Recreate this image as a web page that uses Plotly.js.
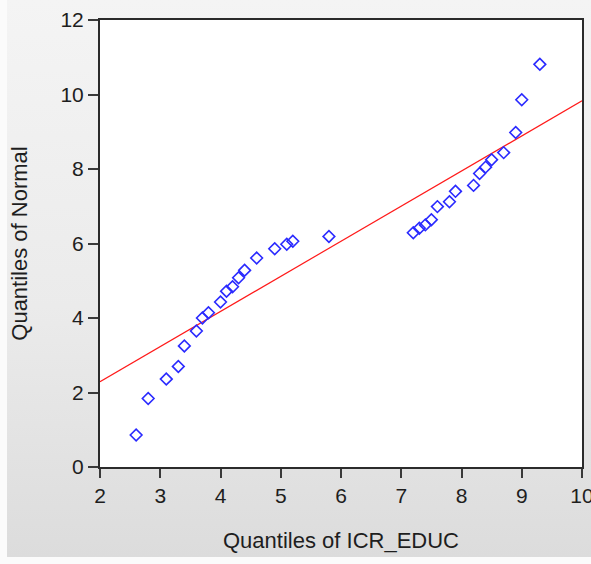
<!DOCTYPE html>
<html>
<head>
<meta charset="utf-8">
<script src="https://cdn.plot.ly/plotly-3.0.1.min.js"></script>
<style>
  html, body { margin: 0; padding: 0; background: #fbfbfb; }
  #frame {
    position: absolute; left: 7px; top: 0; width: 584px; height: 557px;
    background: linear-gradient(to bottom, #f4f4f4 0%, #ebebeb 55%, #dcdcdc 100%);
  }
  #chart { position: absolute; left: 0; top: 0; width: 591px; height: 564px; }
</style>
</head>
<body>
<div id="frame"></div>
<div id="chart"></div>
<script>
// Empirical quantiles of ICR_EDUC against theoretical normal quantiles
const educQuantiles = [2.6, 2.8, 3.1, 3.3, 3.4, 3.6, 3.7, 3.8, 4.0, 4.1, 4.2, 4.3, 4.4, 4.6, 4.9, 5.1, 5.2,
                       5.8, 7.2, 7.3, 7.4, 7.5, 7.6, 7.8, 7.9, 8.2, 8.3, 8.4, 8.5, 8.7, 8.9, 9.0, 9.3];
const normalQuantiles = [0.86, 1.84, 2.36, 2.70, 3.25, 3.65, 4.00, 4.14, 4.43, 4.72, 4.84, 5.08, 5.28, 5.61, 5.86, 5.98, 6.06,
                         6.19, 6.29, 6.41, 6.50, 6.64, 6.99, 7.12, 7.40, 7.56, 7.88, 8.05, 8.25, 8.44, 8.98, 9.86, 10.81];

// Reference line endpoints
const refLineX = [2, 10];
const refLineY = [2.29, 9.83];

const xTicks = [2, 3, 4, 5, 6, 7, 8, 9, 10];
const yTicks = [0, 2, 4, 6, 8, 10, 12];

const traces = [
  {
    x: refLineX, y: refLineY, type: 'scatter', mode: 'lines',
    line: { color: '#ff1a1a', width: 1.2 }, hoverinfo: 'skip'
  },
  {
    x: educQuantiles, y: normalQuantiles, type: 'scatter', mode: 'markers',
    marker: { symbol: 'diamond-open', size: 9, color: '#2a2aff', line: { width: 1.6, color: '#2a2aff' } }
  }
];

const family = 'Liberation Sans, Arial, sans-serif';
const tickFont = { family: family, size: 21, color: '#1e1e1e' };
const titleFont = { family: family, size: 22, color: '#1e1e1e' };

const layout = {
  width: 591, height: 564,
  margin: { l: 100, r: 9, t: 20, b: 97 },
  paper_bgcolor: 'rgba(0,0,0,0)',
  plot_bgcolor: '#ffffff',
  showlegend: false,
  xaxis: {
    range: [2, 10], tickvals: xTicks, ticktext: xTicks.map(String),
    showgrid: false, zeroline: false,
    showline: true, mirror: true, linecolor: '#2b2b2b', linewidth: 2,
    ticks: 'outside', ticklen: 9, tickwidth: 2, tickcolor: '#3a3a3a',
    tickfont: tickFont, ticklabeloverflow: 'allow',
    title: { text: 'Quantiles of ICR_EDUC', font: titleFont, standoff: 26 },
    automargin: false
  },
  yaxis: {
    range: [0, 12], tickvals: yTicks, ticktext: yTicks.map(String),
    showgrid: false, zeroline: false,
    showline: true, mirror: true, linecolor: '#2b2b2b', linewidth: 2,
    ticks: 'outside', ticklen: 10, tickwidth: 2, tickcolor: '#3a3a3a',
    tickfont: tickFont, ticklabeloverflow: 'allow',
    title: { text: 'Quantiles of Normal', font: titleFont, standoff: 27 },
    automargin: false
  }
};

Plotly.newPlot('chart', traces, layout, { displayModeBar: false, staticPlot: true });
</script>
</body>
</html>
